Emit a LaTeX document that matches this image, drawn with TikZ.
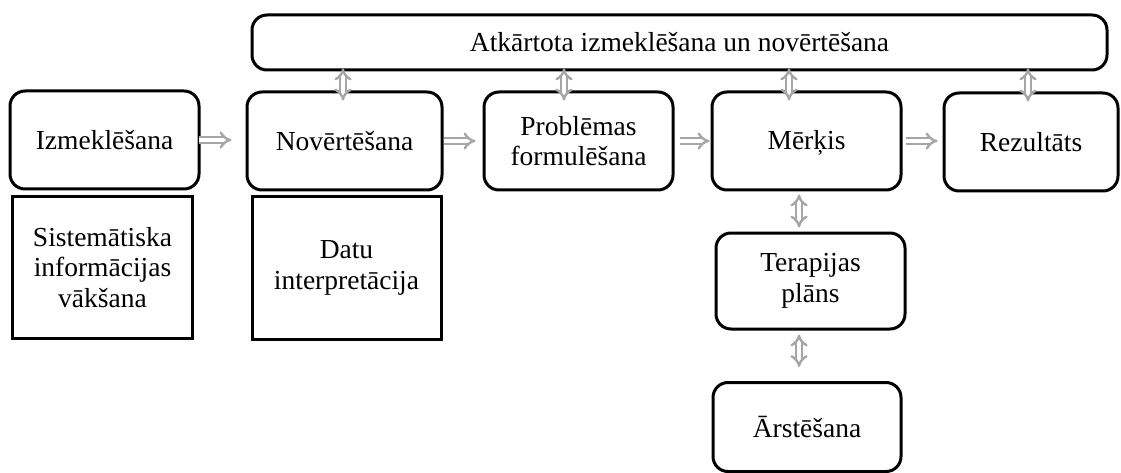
\documentclass[tikz,border=0pt]{standalone}
\usepackage{fontspec}
\setmainfont{Liberation Serif}
\usetikzlibrary{arrows.meta}
\begin{document}
\begin{tikzpicture}[x=1pt,y=-1pt,
  box/.style={draw=black, line width=3pt, rounded corners=15pt, align=center, inner sep=0pt,
    font=\fontsize{27.5}{30.5}\selectfont},
  sqbox/.style={draw=black, line width=3pt, align=center, inner sep=0pt,
    font=\fontsize{27.5}{30.5}\selectfont},
  tip/.tip={Implies[length=8pt,width=18pt]},
  dbl/.style={draw=gray!70, line width=2.4pt, double=white, double distance=3.2pt, -tip},
  dbl2/.style={draw=gray!70, line width=2.4pt, double=white, double distance=3.2pt, tip-tip}]
\useasboundingbox (0,0) rectangle (1121,473);
\node[box, minimum width=855pt, minimum height=55pt] (top) at (679.5,42.5) {Atkārtota izmeklēšana un novērtēšana};
\node[box, minimum width=189pt, minimum height=98pt] (izm) at (104.5,140) {Izmeklēšana};
\node[sqbox, minimum width=180pt, minimum height=141pt] (sis) at (102.5,267.5) {Sistemātiska\\informācijas\\vākšana};
\node[box, minimum width=195pt, minimum height=98pt] (nov) at (344.5,141) {Novērtēšana};
\node[sqbox, minimum width=189pt, minimum height=142pt] (datu) at (346.5,268) {Datu\\interpretācija};
\node[box, minimum width=189pt, minimum height=98pt] (prob) at (578.5,141) {Problēmas\\formulēšana};
\node[box, minimum width=189pt, minimum height=98pt] (mer) at (806.5,141) {Mēr\smash{ķ}is};
\node[box, minimum width=174pt, minimum height=98pt] (rez) at (1031,142) {Rezultāts};
\node[box, minimum width=189pt, minimum height=96pt] (ter) at (810.5,281) {Terapijas\\plāns};
\node[box, minimum width=188pt, minimum height=89pt] (ars) at (807,427) {Ārstēšana};
% horizontal arrows
\draw[dbl, shorten <=-2pt, shorten >=14pt] (izm.east) -- (izm.east -| nov.west);
\draw[dbl, shorten <=0pt, shorten >=7pt] (nov.east) -- (nov.east -| prob.west);
\draw[dbl, shorten <=5pt, shorten >=1pt] (prob.east) -- (prob.east -| mer.west);
\draw[dbl, shorten <=3pt, shorten >=5pt] (mer.east) -- (mer.east -| rez.west);
% vertical arrows to top box
\coordinate (na) at ([xshift=-1.5pt]nov.north);
\coordinate (pa) at ([xshift=-14.5pt]prob.north);
\coordinate (ma) at ([xshift=-17.5pt]mer.north);
\coordinate (ra) at ([xshift=-3pt]rez.north);
\foreach \c in {na,pa,ma,ra}
  \draw[dbl2, shorten <=-3pt, shorten >=-10pt] (top.south -| \c) -- (\c);
% vertical arrows below Merkis
\coordinate (mb) at ([xshift=-7.5pt]mer.south);
\draw[dbl2, shorten <=3pt, shorten >=4pt] (mb) -- (ter.north -| mb);
\draw[dbl2, shorten <=4pt, shorten >=14pt] (ter.south -| mb) -- (ars.north -| mb);
\end{tikzpicture}
\end{document}
